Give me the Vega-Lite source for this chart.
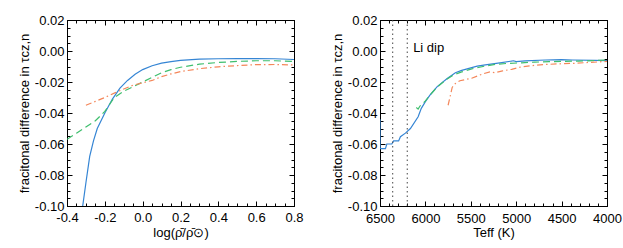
{
  "$schema": "https://vega.github.io/schema/vega-lite/v6.json",
  "padding": {"left": 17, "top": 13, "right": 5, "bottom": 5},
  "background": "white",
  "config": {
    "font": "Liberation Sans",
    "view": {"stroke": "black", "strokeWidth": 1},
    "locale": {"number": {"decimal": ".", "thousands": ",", "grouping": [3], "currency": ["$", ""], "minus": "-"}},
    "axis": {
      "domain": false, "grid": false, "tickColor": "black", "tickWidth": 1, "labelFlush": false,
      "labelFont": "Liberation Sans", "labelFontSize": 13, "labelColor": "black",
      "titleFont": "Liberation Sans", "titleFontSize": 13, "titleFontWeight": "normal", "titleColor": "black"
    }
  },
  "spacing": 26,
  "datasets": {
    "left": [
      {"s": "blue", "i": 0, "x": -0.317, "y": -0.1},
      {"s": "blue", "i": 1, "x": -0.3, "y": -0.085},
      {"s": "blue", "i": 2, "x": -0.28, "y": -0.068},
      {"s": "blue", "i": 3, "x": -0.26, "y": -0.058},
      {"s": "blue", "i": 4, "x": -0.24, "y": -0.05},
      {"s": "blue", "i": 5, "x": -0.2, "y": -0.04},
      {"s": "blue", "i": 6, "x": -0.16, "y": -0.031},
      {"s": "blue", "i": 7, "x": -0.12, "y": -0.024},
      {"s": "blue", "i": 8, "x": -0.08, "y": -0.019},
      {"s": "blue", "i": 9, "x": -0.04, "y": -0.015},
      {"s": "blue", "i": 10, "x": 0.0, "y": -0.012},
      {"s": "blue", "i": 11, "x": 0.05, "y": -0.0095},
      {"s": "blue", "i": 12, "x": 0.1, "y": -0.0078},
      {"s": "blue", "i": 13, "x": 0.15, "y": -0.0068},
      {"s": "blue", "i": 14, "x": 0.2, "y": -0.006},
      {"s": "blue", "i": 15, "x": 0.3, "y": -0.0053},
      {"s": "blue", "i": 16, "x": 0.4, "y": -0.005},
      {"s": "blue", "i": 17, "x": 0.5, "y": -0.0049},
      {"s": "blue", "i": 18, "x": 0.6, "y": -0.0049},
      {"s": "blue", "i": 19, "x": 0.7, "y": -0.005},
      {"s": "blue", "i": 20, "x": 0.8, "y": -0.0055},
      {"s": "green", "i": 0, "x": -0.4, "y": -0.057},
      {"s": "green", "i": 1, "x": -0.35, "y": -0.053},
      {"s": "green", "i": 2, "x": -0.3, "y": -0.049},
      {"s": "green", "i": 3, "x": -0.25, "y": -0.045},
      {"s": "green", "i": 4, "x": -0.2, "y": -0.039},
      {"s": "green", "i": 5, "x": -0.15, "y": -0.03},
      {"s": "green", "i": 6, "x": -0.1, "y": -0.026},
      {"s": "green", "i": 7, "x": -0.05, "y": -0.023},
      {"s": "green", "i": 8, "x": 0.0, "y": -0.02},
      {"s": "green", "i": 9, "x": 0.05, "y": -0.017},
      {"s": "green", "i": 10, "x": 0.1, "y": -0.014},
      {"s": "green", "i": 11, "x": 0.15, "y": -0.012},
      {"s": "green", "i": 12, "x": 0.2, "y": -0.0105},
      {"s": "green", "i": 13, "x": 0.3, "y": -0.0085},
      {"s": "green", "i": 14, "x": 0.4, "y": -0.0074},
      {"s": "green", "i": 15, "x": 0.5, "y": -0.0067},
      {"s": "green", "i": 16, "x": 0.6, "y": -0.0063},
      {"s": "green", "i": 17, "x": 0.7, "y": -0.0063},
      {"s": "green", "i": 18, "x": 0.8, "y": -0.0068},
      {"s": "orange", "i": 0, "x": -0.3, "y": -0.035},
      {"s": "orange", "i": 1, "x": -0.25, "y": -0.0325},
      {"s": "orange", "i": 2, "x": -0.2, "y": -0.03},
      {"s": "orange", "i": 3, "x": -0.15, "y": -0.0272},
      {"s": "orange", "i": 4, "x": -0.1, "y": -0.0245},
      {"s": "orange", "i": 5, "x": -0.05, "y": -0.022},
      {"s": "orange", "i": 6, "x": 0.0, "y": -0.0205},
      {"s": "orange", "i": 7, "x": 0.05, "y": -0.019},
      {"s": "orange", "i": 8, "x": 0.1, "y": -0.0165},
      {"s": "orange", "i": 9, "x": 0.15, "y": -0.0148},
      {"s": "orange", "i": 10, "x": 0.2, "y": -0.0133},
      {"s": "orange", "i": 11, "x": 0.3, "y": -0.0114},
      {"s": "orange", "i": 12, "x": 0.4, "y": -0.0102},
      {"s": "orange", "i": 13, "x": 0.5, "y": -0.0094},
      {"s": "orange", "i": 14, "x": 0.6, "y": -0.0088},
      {"s": "orange", "i": 15, "x": 0.7, "y": -0.0087},
      {"s": "orange", "i": 16, "x": 0.8, "y": -0.009}
    ],
    "right": [
      {"s": "blue", "i": 0, "x": 6500, "y": -0.044},
      {"s": "blue", "i": 1, "x": 6499, "y": -0.063},
      {"s": "blue", "i": 2, "x": 6440, "y": -0.063},
      {"s": "blue", "i": 3, "x": 6425, "y": -0.06},
      {"s": "blue", "i": 4, "x": 6370, "y": -0.06},
      {"s": "blue", "i": 5, "x": 6350, "y": -0.058},
      {"s": "blue", "i": 6, "x": 6295, "y": -0.058},
      {"s": "blue", "i": 7, "x": 6275, "y": -0.0553},
      {"s": "blue", "i": 8, "x": 6220, "y": -0.053},
      {"s": "blue", "i": 9, "x": 6165, "y": -0.05},
      {"s": "blue", "i": 10, "x": 6080, "y": -0.0424},
      {"s": "blue", "i": 11, "x": 6045, "y": -0.037},
      {"s": "blue", "i": 12, "x": 6000, "y": -0.0327},
      {"s": "blue", "i": 13, "x": 5950, "y": -0.0285},
      {"s": "blue", "i": 14, "x": 5870, "y": -0.023},
      {"s": "blue", "i": 15, "x": 5760, "y": -0.0178},
      {"s": "blue", "i": 16, "x": 5670, "y": -0.014},
      {"s": "blue", "i": 17, "x": 5600, "y": -0.0125},
      {"s": "blue", "i": 18, "x": 5520, "y": -0.0112},
      {"s": "blue", "i": 19, "x": 5430, "y": -0.0098},
      {"s": "blue", "i": 20, "x": 5340, "y": -0.009},
      {"s": "blue", "i": 21, "x": 5160, "y": -0.0075},
      {"s": "blue", "i": 22, "x": 5030, "y": -0.0063},
      {"s": "blue", "i": 23, "x": 5000, "y": -0.0068},
      {"s": "blue", "i": 24, "x": 4900, "y": -0.0064},
      {"s": "blue", "i": 25, "x": 4680, "y": -0.0058},
      {"s": "blue", "i": 26, "x": 4500, "y": -0.0056},
      {"s": "blue", "i": 27, "x": 4380, "y": -0.0058},
      {"s": "blue", "i": 28, "x": 4130, "y": -0.006},
      {"s": "blue", "i": 29, "x": 4000, "y": -0.0062},
      {"s": "green", "i": 0, "x": 6100, "y": -0.0365},
      {"s": "green", "i": 1, "x": 6080, "y": -0.0375},
      {"s": "green", "i": 2, "x": 6060, "y": -0.0355},
      {"s": "green", "i": 3, "x": 6030, "y": -0.034},
      {"s": "green", "i": 4, "x": 6000, "y": -0.0322},
      {"s": "green", "i": 5, "x": 5950, "y": -0.0285},
      {"s": "green", "i": 6, "x": 5870, "y": -0.0232},
      {"s": "green", "i": 7, "x": 5760, "y": -0.018},
      {"s": "green", "i": 8, "x": 5680, "y": -0.0152},
      {"s": "green", "i": 9, "x": 5600, "y": -0.0135},
      {"s": "green", "i": 10, "x": 5490, "y": -0.0115},
      {"s": "green", "i": 11, "x": 5350, "y": -0.0098},
      {"s": "green", "i": 12, "x": 5230, "y": -0.0086},
      {"s": "green", "i": 13, "x": 5100, "y": -0.008},
      {"s": "green", "i": 14, "x": 4940, "y": -0.0076},
      {"s": "green", "i": 15, "x": 4800, "y": -0.0072},
      {"s": "green", "i": 16, "x": 4640, "y": -0.0069},
      {"s": "green", "i": 17, "x": 4480, "y": -0.0067},
      {"s": "green", "i": 18, "x": 4310, "y": -0.0065},
      {"s": "green", "i": 19, "x": 4150, "y": -0.0062},
      {"s": "green", "i": 20, "x": 4000, "y": -0.0058},
      {"s": "orange", "i": 0, "x": 5750, "y": -0.035},
      {"s": "orange", "i": 1, "x": 5730, "y": -0.03},
      {"s": "orange", "i": 2, "x": 5705, "y": -0.0235},
      {"s": "orange", "i": 3, "x": 5670, "y": -0.021},
      {"s": "orange", "i": 4, "x": 5620, "y": -0.0192},
      {"s": "orange", "i": 5, "x": 5550, "y": -0.0183},
      {"s": "orange", "i": 6, "x": 5490, "y": -0.0176},
      {"s": "orange", "i": 7, "x": 5420, "y": -0.016},
      {"s": "orange", "i": 8, "x": 5370, "y": -0.0148},
      {"s": "orange", "i": 9, "x": 5290, "y": -0.0135},
      {"s": "orange", "i": 10, "x": 5230, "y": -0.014},
      {"s": "orange", "i": 11, "x": 5150, "y": -0.0128},
      {"s": "orange", "i": 12, "x": 5050, "y": -0.0118},
      {"s": "orange", "i": 13, "x": 4940, "y": -0.0102},
      {"s": "orange", "i": 14, "x": 4800, "y": -0.0093},
      {"s": "orange", "i": 15, "x": 4680, "y": -0.0087},
      {"s": "orange", "i": 16, "x": 4500, "y": -0.0082},
      {"s": "orange", "i": 17, "x": 4380, "y": -0.008},
      {"s": "orange", "i": 18, "x": 4200, "y": -0.0074},
      {"s": "orange", "i": 19, "x": 4000, "y": -0.0067}
    ],
    "lidip": [{"t": 6360}, {"t": 6200}],
    "label": [{"t": 6135, "y": 0.002, "text": "Li dip"}]
  },
  "hconcat": [
    {
      "width": 227,
      "height": 186,
      "data": {"name": "left"},
      "resolve": {"axis": {"x": "independent", "y": "independent"}},
      "layer": [
        {
          "transform": [{"filter": "datum.s === 'blue'"}],
          "mark": {"type": "line", "color": "#3585d4", "strokeWidth": 1.2, "clip": true},
          "encoding": {
            "order": {"field": "i", "type": "quantitative"},
            "x": {"field": "x", "type": "quantitative", "scale": {"domain": [-0.4, 0.8], "nice": false, "zero": false},
              "axis": {"orient": "bottom", "values": [-0.4, -0.2, 0, 0.2, 0.4, 0.6, 0.8], "format": ".1f", "tickSize": -5, "labelPadding": 10, "title": "log(ρ̄/ρ̄⊙)", "titlePadding": 2}},
            "y": {"field": "y", "type": "quantitative", "scale": {"domain": [-0.1, 0.02], "nice": false, "zero": false},
              "axis": {"orient": "left", "values": [-0.1, -0.08, -0.06, -0.04, -0.02, 0, 0.02], "format": ".2f", "tickSize": -5, "labelPadding": 8, "title": "fracitonal difference in τcz,n", "titlePadding": 3}}
          }
        },
        {
          "transform": [{"filter": "datum.s === 'green'"}],
          "mark": {"type": "line", "color": "#3fbf6e", "strokeWidth": 1.2, "strokeDash": [7, 4], "clip": true},
          "encoding": {
            "order": {"field": "i", "type": "quantitative"},
            "x": {"field": "x", "type": "quantitative", "axis": {"orient": "top", "values": [-0.4, -0.2, 0, 0.2, 0.4, 0.6, 0.8], "labels": false, "tickSize": -5, "title": null}},
            "y": {"field": "y", "type": "quantitative", "axis": {"orient": "right", "values": [-0.1, -0.08, -0.06, -0.04, -0.02, 0, 0.02], "labels": false, "tickSize": -5, "title": null}}
          }
        },
        {
          "transform": [{"filter": "datum.s === 'orange'"}],
          "mark": {"type": "line", "color": "#f4875a", "strokeWidth": 1.2, "strokeDash": [6, 3, 1.5, 3], "clip": true},
          "encoding": {
            "order": {"field": "i", "type": "quantitative"},
            "x": {"field": "x", "type": "quantitative", "axis": {"orient": "bottom", "values": [-0.4, -0.35, -0.3, -0.25, -0.2, -0.15, -0.1, -0.05, 0, 0.05, 0.1, 0.15, 0.2, 0.25, 0.3, 0.35, 0.4, 0.45, 0.5, 0.55, 0.6, 0.65, 0.7, 0.75, 0.8], "labels": false, "tickSize": -3, "title": null}},
            "y": {"field": "y", "type": "quantitative", "axis": {"orient": "left", "values": [-0.1, -0.095, -0.09, -0.085, -0.08, -0.075, -0.07, -0.065, -0.06, -0.055, -0.05, -0.045, -0.04, -0.035, -0.03, -0.025, -0.02, -0.015, -0.01, -0.005, 0, 0.005, 0.01, 0.015, 0.02], "labels": false, "tickSize": -3, "title": null}}
          }
        },
        {
          "transform": [{"filter": "datum.s === 'blue'"}],
          "mark": {"type": "point", "opacity": 0},
          "encoding": {
            "x": {"field": "x", "type": "quantitative", "axis": {"orient": "top", "values": [-0.4, -0.35, -0.3, -0.25, -0.2, -0.15, -0.1, -0.05, 0, 0.05, 0.1, 0.15, 0.2, 0.25, 0.3, 0.35, 0.4, 0.45, 0.5, 0.55, 0.6, 0.65, 0.7, 0.75, 0.8], "labels": false, "tickSize": -3, "title": null}},
            "y": {"field": "y", "type": "quantitative", "axis": {"orient": "right", "values": [-0.1, -0.095, -0.09, -0.085, -0.08, -0.075, -0.07, -0.065, -0.06, -0.055, -0.05, -0.045, -0.04, -0.035, -0.03, -0.025, -0.02, -0.015, -0.01, -0.005, 0, 0.005, 0.01, 0.015, 0.02], "labels": false, "tickSize": -3, "title": null}}
          }
        }
      ]
    },
    {
      "width": 227,
      "height": 186,
      "resolve": {"axis": {"x": "independent", "y": "independent"}},
      "layer": [
        {
          "data": {"name": "right"},
          "transform": [{"filter": "datum.s === 'blue'"}],
          "mark": {"type": "line", "color": "#3585d4", "strokeWidth": 1.2, "clip": true},
          "encoding": {
            "order": {"field": "i", "type": "quantitative"},
            "x": {"field": "x", "type": "quantitative", "scale": {"domain": [4000, 6500], "reverse": true, "nice": false, "zero": false},
              "axis": {"orient": "bottom", "values": [4000, 4500, 5000, 5500, 6000, 6500], "format": "d", "tickSize": -5, "labelPadding": 11, "title": "Teff (K)", "titlePadding": 1}},
            "y": {"field": "y", "type": "quantitative", "scale": {"domain": [-0.1, 0.02], "nice": false, "zero": false},
              "axis": {"orient": "left", "values": [-0.1, -0.08, -0.06, -0.04, -0.02, 0, 0.02], "format": ".2f", "tickSize": -5, "labelPadding": 8, "title": "fracitonal difference in τcz,n", "titlePadding": 3}}
          }
        },
        {
          "data": {"name": "right"},
          "transform": [{"filter": "datum.s === 'green'"}],
          "mark": {"type": "line", "color": "#3fbf6e", "strokeWidth": 1.2, "strokeDash": [7, 4], "clip": true},
          "encoding": {
            "order": {"field": "i", "type": "quantitative"},
            "x": {"field": "x", "type": "quantitative", "axis": {"orient": "top", "values": [4000, 4500, 5000, 5500, 6000, 6500], "labels": false, "tickSize": -5, "title": null}},
            "y": {"field": "y", "type": "quantitative", "axis": {"orient": "right", "values": [-0.1, -0.08, -0.06, -0.04, -0.02, 0, 0.02], "labels": false, "tickSize": -5, "title": null}}
          }
        },
        {
          "data": {"name": "right"},
          "transform": [{"filter": "datum.s === 'orange'"}],
          "mark": {"type": "line", "color": "#f4875a", "strokeWidth": 1.2, "strokeDash": [6, 3, 1.5, 3], "clip": true},
          "encoding": {
            "order": {"field": "i", "type": "quantitative"},
            "x": {"field": "x", "type": "quantitative", "axis": {"orient": "bottom", "values": [4000, 4100, 4200, 4300, 4400, 4500, 4600, 4700, 4800, 4900, 5000, 5100, 5200, 5300, 5400, 5500, 5600, 5700, 5800, 5900, 6000, 6100, 6200, 6300, 6400, 6500], "labels": false, "tickSize": -3, "title": null}},
            "y": {"field": "y", "type": "quantitative", "axis": {"orient": "left", "values": [-0.1, -0.095, -0.09, -0.085, -0.08, -0.075, -0.07, -0.065, -0.06, -0.055, -0.05, -0.045, -0.04, -0.035, -0.03, -0.025, -0.02, -0.015, -0.01, -0.005, 0, 0.005, 0.01, 0.015, 0.02], "labels": false, "tickSize": -3, "title": null}}
          }
        },
        {
          "data": {"name": "lidip"},
          "mark": {"type": "rule", "color": "#444444", "strokeWidth": 1, "strokeDash": [1.5, 3]},
          "encoding": {
            "x": {"field": "t", "type": "quantitative", "axis": {"orient": "top", "values": [4000, 4100, 4200, 4300, 4400, 4500, 4600, 4700, 4800, 4900, 5000, 5100, 5200, 5300, 5400, 5500, 5600, 5700, 5800, 5900, 6000, 6100, 6200, 6300, 6400, 6500], "labels": false, "tickSize": -3, "title": null}}
          }
        },
        {
          "data": {"name": "label"},
          "mark": {"type": "text", "align": "left", "baseline": "middle", "fontSize": 13, "font": "Liberation Sans", "color": "black"},
          "encoding": {
            "text": {"field": "text"},
            "x": {"field": "t", "type": "quantitative", "axis": null},
            "y": {"field": "y", "type": "quantitative", "axis": {"orient": "right", "values": [-0.1, -0.095, -0.09, -0.085, -0.08, -0.075, -0.07, -0.065, -0.06, -0.055, -0.05, -0.045, -0.04, -0.035, -0.03, -0.025, -0.02, -0.015, -0.01, -0.005, 0, 0.005, 0.01, 0.015, 0.02], "labels": false, "tickSize": -3, "title": null}}
          }
        }
      ]
    }
  ]
}
